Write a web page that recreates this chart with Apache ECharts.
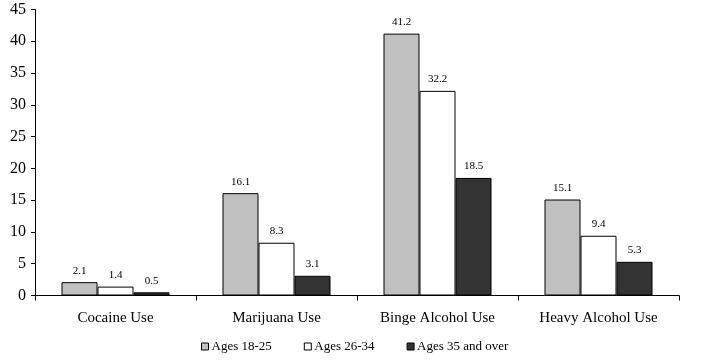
<!DOCTYPE html>
<html><head><meta charset="utf-8">
<script src="https://cdn.jsdelivr.net/npm/echarts@6/dist/echarts.min.js"></script>
<style>html,body{margin:0;padding:0;background:#fff}#c{width:707px;height:361px}</style>
</head><body><div id="c"></div>
<script>
const categories = ["Cocaine Use", "Marijuana Use", "Binge Alcohol Use", "Heavy Alcohol Use"];
const seriesNames = ["Ages 18-25", "Ages 26-34", "Ages 35 and over"];
const ages18to25 = [2.1, 16.1, 41.2, 15.1];
const ages26to34 = [1.4, 8.3, 32.2, 9.4];
const ages35over = [0.5, 3.1, 18.5, 5.3];
const yTicks = [0, 5, 10, 15, 20, 25, 30, 35, 40, 45];

const colors = ["#c0c0c0", "#ffffff", "#333333"];
const datas = [ages18to25, ages26to34, ages35over];
const font = "Liberation Serif, Times New Roman, serif";

const chart = echarts.init(document.getElementById('c'));
chart.setOption({
  animation: false,
  textStyle: { fontFamily: font },
  grid: { left: 35, right: 28, top: 9.5, bottom: 65.5, containLabel: false },
  legend: {
    bottom: 3, left: 196,
    itemWidth: 7, itemHeight: 7, itemGap: 32,
    icon: 'rect',
    textStyle: { fontFamily: font, fontSize: 13, color: '#000', padding: [0, 0, 0, -2] },
    data: seriesNames.map((n, i) => ({ name: n, itemStyle: { color: colors[i], borderColor: '#000', borderWidth: 1 } }))
  },
  xAxis: {
    type: 'category', data: categories,
    axisLine: { lineStyle: { color: '#000', width: 1 } },
    axisTick: { show: true, inside: false, length: 5, lineStyle: { color: '#000' } },
    axisLabel: { fontFamily: font, fontSize: 15, color: '#000', margin: 15 }
  },
  yAxis: {
    type: 'value', min: yTicks[0], max: yTicks[yTicks.length - 1], interval: 5,
    splitLine: { show: false },
    axisLine: { show: true, lineStyle: { color: '#000', width: 1 } },
    axisTick: { show: true, length: 4, lineStyle: { color: '#000' } },
    axisLabel: { fontFamily: font, fontSize: 16, color: '#000', margin: 9 }
  },
  series: seriesNames.map((n, i) => ({
    name: n, type: 'bar', data: datas[i],
    barWidth: 36, barGap: '0%',
    itemStyle: { color: colors[i], borderColor: '#000', borderWidth: 1 },
    label: { show: true, position: 'top', distance: 6, fontFamily: font, fontSize: 11, color: '#000', formatter: p => p.value.toFixed(1) }
  }))
});
</script></body></html>
